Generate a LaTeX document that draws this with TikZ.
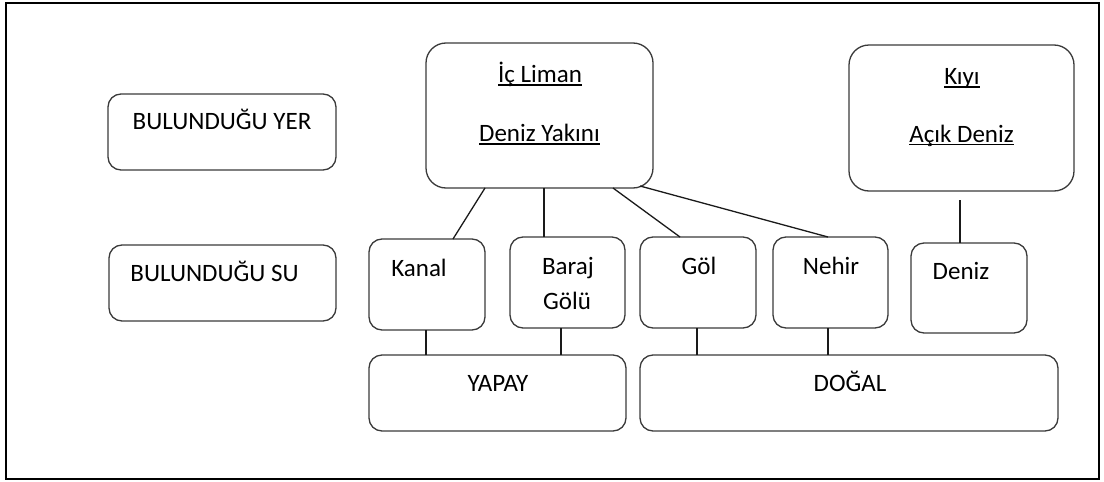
\documentclass[tikz,border=0pt]{standalone}
\usepackage{fontspec}
\setmainfont{Carlito}
\definecolor{boxgray}{HTML}{3A3A3A}
\definecolor{linek}{HTML}{1A1A1A}
\newcommand{\myul}[1]{\setbox0\hbox{#1}\rlap{\rule[-3pt]{\wd0}{1.3pt}}\box0}
\begin{document}
\begin{tikzpicture}[x=1pt,y=-1pt,
  box/.style={draw=boxgray, line width=1.3pt, rounded corners=13pt, inner sep=0pt, outer sep=0pt},
  bigbox/.style={box, rounded corners=20pt},
  lbl/.style={font=\fontsize{25}{30}\selectfont, inner sep=0pt, anchor=base, text=black},
  conn/.style={draw=linek, line width=1.3pt}]
\useasboundingbox (0,0) rectangle (1104,482);
\draw[line width=2pt, black] (6,3) rectangle (1099,479);

% boxes
\node[box, minimum width=228pt, minimum height=76pt] (yer) at (222,132) {};
\node[box, minimum width=227pt, minimum height=76pt] (su) at (222.5,283) {};
\node[bigbox, minimum width=227pt, minimum height=145pt] (ic) at (539.5,115.5) {};
\node[bigbox, minimum width=225pt, minimum height=146pt] (kiyi) at (961.5,118) {};
\node[box, minimum width=116pt, minimum height=91pt] (kanal) at (427,284.5) {};
\node[box, minimum width=115pt, minimum height=91pt] (baraj) at (567.5,282.5) {};
\node[box, minimum width=116pt, minimum height=91pt] (gol) at (698,282.5) {};
\node[box, minimum width=115pt, minimum height=91pt] (nehir) at (830.5,282.5) {};
\node[box, minimum width=116pt, minimum height=90pt] (deniz) at (969,288) {};
\node[box, minimum width=257pt, minimum height=76pt] (yapay) at (497.5,393) {};
\node[box, minimum width=418pt, minimum height=76pt] (dogal) at (849,393) {};

% texts
\node[lbl] (tyer) at (222,129.5) {BULUNDUĞU YER};
\node[lbl] (tsu) at (214.5,281.5) {BULUNDUĞU SU};
\node[lbl] (tic1) at (540,82.5) {\myul{İç Liman}};
\node[lbl] (tic2) at (539.5,141.5) {\myul{Deniz Yakını}};
\node[lbl] (tkiyi1) at (962,84.5) {\myul{Kıyı}};
\node[lbl] (tkiyi2) at (961.5,142) {\myul{Açık Deniz}};
\node[lbl] (tkanal) at (419,276.5) {Kanal};
\node[lbl] (tbaraj1) at (568,274.5) {Baraj};
\node[lbl] (tbaraj2) at (567,309.5) {Gölü};
\node[lbl] (tgol) at (699,274.5) {Göl};
\node[lbl] (tnehir) at (831,274.5) {Nehir};
\node[lbl] (tdeniz) at (961,279.5) {Deniz};
\node[lbl] (tyapay) at (498,391.5) {YAPAY};
\node[lbl] (tdogal) at (850,391.5) {DOĞAL};

% connectors
\draw[conn] ([xshift=-54.5pt]ic.south) -- ([xshift=26pt]kanal.north);
\draw[conn] ([xshift=4.5pt]ic.south) -- ([xshift=-23.5pt]baraj.north);
\draw[conn] ([xshift=73.5pt]ic.south) -- ([xshift=-18pt]gol.north);
\draw[conn] ([xshift=100.5pt,yshift=2pt]ic.south) -- ([xshift=-2.5pt]nehir.north);
\draw[conn] ([xshift=-1.5pt,yshift=-9pt]kiyi.south) -- ([xshift=-9pt]deniz.north);
\draw[conn] ([xshift=-1pt]kanal.south) -- ([xshift=-1pt]kanal.south |- yapay.north);
\draw[conn] ([xshift=-6.5pt]baraj.south) -- ([xshift=-6.5pt]baraj.south |- yapay.north);
\draw[conn] ([xshift=-1pt]gol.south) -- ([xshift=-1pt]gol.south |- dogal.north);
\draw[conn] ([xshift=-2.5pt]nehir.south) -- ([xshift=-2.5pt]nehir.south |- dogal.north);
\end{tikzpicture}
\end{document}
